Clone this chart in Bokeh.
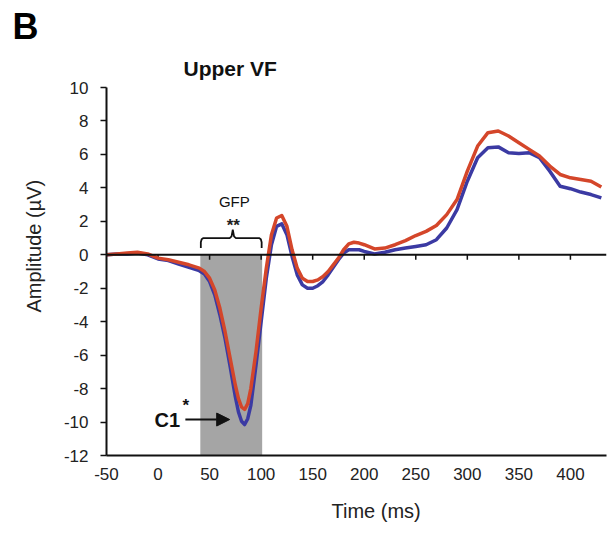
import math
from bokeh.plotting import figure
from bokeh.models import Range1d, Label, Arrow, NormalHead, FixedTicker, Span, Title
from bokeh.embed import file_html
from bokeh.resources import INLINE

# ---- data ----
time_ms = [-50, -40, -30, -20, -10, 0, 10, 20, 30, 40, 45, 50, 55, 60, 65, 70, 75, 78,
           81, 84, 87, 90, 95, 100, 105, 110, 115, 120, 125, 130, 135, 140, 145, 150, 155,
           160, 165, 170, 175, 180, 185, 190, 195, 200, 210, 220, 230, 240, 250, 260, 270,
           280, 290, 300, 310, 320, 330, 340, 350, 360, 370, 380, 390, 400, 410, 420, 430]
red_uv = [0.0, 0.05, 0.1, 0.15, 0.05, -0.2, -0.3, -0.45, -0.6, -0.8, -1.0, -1.4, -2.1,
          -3.2, -4.6, -6.2, -7.8, -8.6, -9.1, -9.25, -8.9, -8.0, -5.8, -3.2, -0.8, 1.2,
          2.2, 2.35, 1.7, 0.3, -0.8, -1.4, -1.6, -1.6, -1.5, -1.3, -1.0, -0.6, -0.2, 0.3,
          0.65, 0.75, 0.7, 0.6, 0.35, 0.4, 0.6, 0.85, 1.15, 1.4, 1.75, 2.4, 3.3, 5.0, 6.5,
          7.3, 7.4, 7.1, 6.7, 6.3, 5.9, 5.3, 4.8, 4.6, 4.5, 4.4, 4.05]
blue_uv = [0.0, 0.05, 0.05, 0.1, 0.0, -0.25, -0.35, -0.55, -0.75, -0.95, -1.15, -1.6,
           -2.4, -3.6, -5.0, -6.7, -8.5, -9.4, -9.95, -10.15, -9.8, -9.0, -6.6, -4.0,
           -1.4, 0.6, 1.7, 1.85, 1.2, -0.1, -1.2, -1.8, -2.0, -2.0, -1.85, -1.6, -1.2,
           -0.75, -0.3, 0.1, 0.3, 0.3, 0.3, 0.2, 0.05, 0.15, 0.3, 0.4, 0.5, 0.6, 0.9, 1.6,
           2.7, 4.4, 5.8, 6.4, 6.45, 6.1, 6.05, 6.1, 5.8, 5.0, 4.1, 3.95, 3.75, 3.6, 3.4]
x_ticks = [-50, 0, 50, 100, 150, 200, 250, 300, 350, 400]
y_ticks = [-12, -10, -8, -6, -4, -2, 0, 2, 4, 6, 8, 10]
gfp_window = [41, 101]

FONT = "Liberation Sans"
RED = "#d4462a"
BLUE = "#3b3aa3"

p = figure(width=616, height=541, x_range=Range1d(-50, 435), y_range=Range1d(-12, 10),
           output_backend="svg", toolbar_location=None, title_location=None,
           min_border_left=106, min_border_right=10, min_border_top=87, min_border_bottom=86)
p.grid.visible = False
p.outline_line_color = None
p.background_fill_color = "white"

p.add_layout(Title(text="Upper VF", align="left", offset=77, standoff=16,
                   text_font=FONT, text_font_size="21px", text_font_style="bold",
                   text_color="#111111"), "above")
p.add_layout(Title(text="B", align="left", offset=-94, standoff=0,
                   text_font=FONT, text_font_size="36px", text_font_style="bold",
                   text_color="#000000"), "above")

p.xaxis.ticker = FixedTicker(ticks=x_ticks)
p.yaxis.ticker = FixedTicker(ticks=y_ticks)
p.xaxis.major_label_overrides = {t: str(t) for t in x_ticks}
p.yaxis.major_label_overrides = {t: str(t) for t in y_ticks}
for ax in (p.xaxis, p.yaxis):
    ax.axis_line_width = 2
    ax.axis_line_color = "#111111"
    ax.major_tick_line_color = "#111111"
    ax.major_tick_line_width = 1.5
    ax.minor_tick_line_color = None
    ax.major_label_text_font = FONT
    ax.major_label_text_font_size = "17px"
    ax.major_label_text_color = "#222222"
p.xaxis.major_tick_out = 0
p.xaxis.major_tick_in = 0
p.xaxis.major_label_standoff = 12
p.yaxis.major_tick_out = 6
p.yaxis.major_tick_in = 0
p.yaxis.major_label_standoff = 12

# axis titles
p.add_layout(Title(text="Time (ms)", align="left", offset=225, standoff=30,
                   text_font=FONT, text_font_size="20px", text_font_style="normal",
                   text_color="#222222", vertical_align="bottom"), "below")
p.add_layout(Title(text="Amplitude (µV)", align="left", offset=143, standoff=32,
                   text_font=FONT, text_font_size="20px", text_font_style="normal",
                   text_color="#222222"), "left")

# GFP window shading
p.quad(left=[gfp_window[0]], right=[gfp_window[1]], bottom=[-12], top=[0],
       fill_color="#a5a5a5", line_color=None)

# zero line with ticks
p.add_layout(Span(location=0, dimension="width", line_color="#111111", line_width=2))
p.segment(x0=x_ticks[1:], y0=[0] * (len(x_ticks) - 1), x1=x_ticks[1:],
          y1=[-0.3] * (len(x_ticks) - 1), line_color="#111111", line_width=1.5)

# curves
p.line(time_ms, blue_uv, line_color=BLUE, line_width=3.5, line_join="round")
p.line(time_ms, red_uv, line_color=RED, line_width=3.5, line_join="round")

# brace
a, b, c = gfp_window[0] + 0.5, gfp_window[1] - 0.5, 72.5
brace_x = [a, a, a + 0.8, a + 2.5, c - 3, c - 1.2, c, c + 1.2, c + 3, b - 2.5, b - 0.8, b, b]
brace_y = [0.4, 0.75, 0.93, 1.0, 1.0, 1.1, 1.5, 1.1, 1.0, 1.0, 0.93, 0.75, 0.4]
p.line(brace_x, brace_y, line_color="#111111", line_width=1.8)

p.add_layout(Label(x=74, y=3.2, text="GFP", text_font=FONT, text_font_size="15px",
                   text_align="center", text_baseline="middle", text_color="#111111"))
p.add_layout(Label(x=73, y=1.75, text="**", text_font=FONT, text_font_size="17px",
                   text_font_style="bold", text_align="center", text_baseline="middle",
                   text_color="#222222"))

# C1 arrow
p.add_layout(Label(x=9, y=-9.85, text="C1", text_font=FONT, text_font_size="20px",
                   text_font_style="bold", text_align="center", text_baseline="middle",
                   text_color="#111111"))
p.add_layout(Label(x=27, y=-9.0, text="*", text_font=FONT, text_font_size="17px",
                   text_font_style="bold", text_align="center", text_baseline="middle",
                   text_color="#111111"))
p.add_layout(Arrow(end=NormalHead(size=13, fill_color="#111111", line_color="#111111"),
                   x_start=26.5, y_start=-9.85, x_end=69.5, y_end=-9.85,
                   line_color="#111111", line_width=2))

open("out.html", "w").write(file_html(p, INLINE))
